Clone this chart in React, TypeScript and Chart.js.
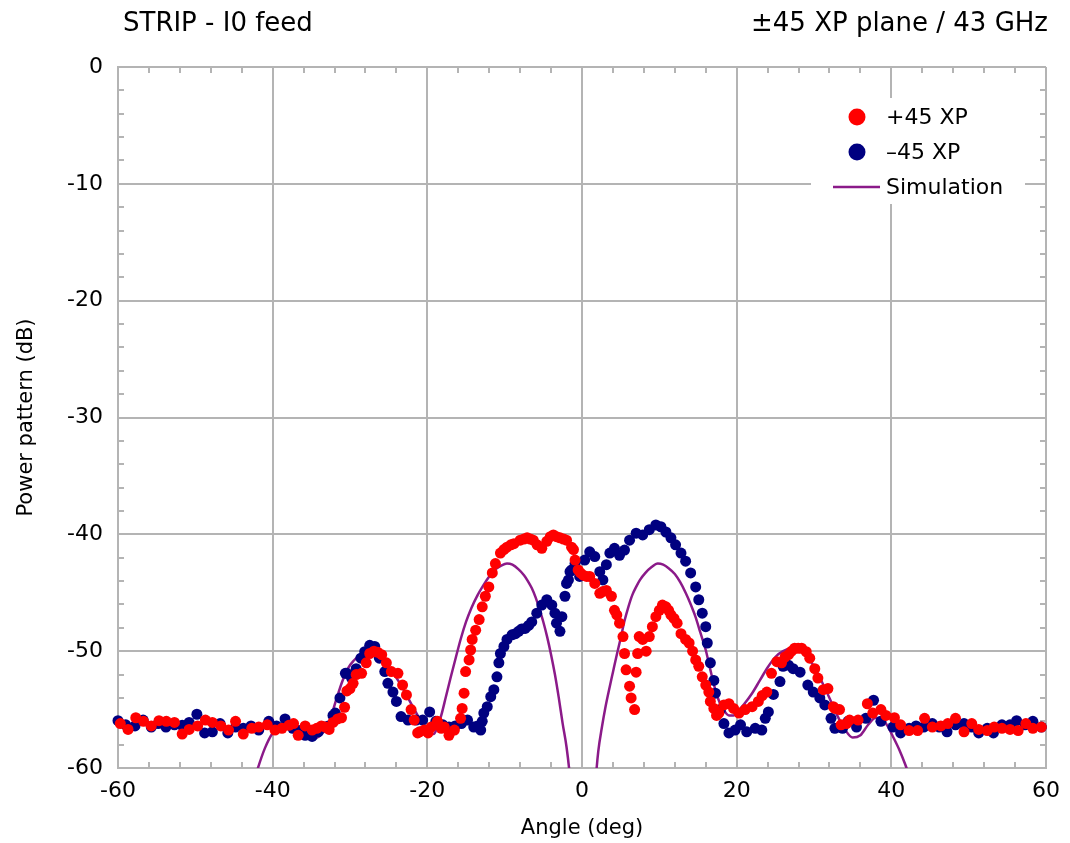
import React, { useEffect, useRef } from "react";
import { Chart, registerables } from "chart.js";

Chart.register(...registerables);

const FONT = "DejaVu Sans";

const X_TICKS = [-60, -40, -20, 0, 20, 40, 60];
const Y_TICKS = [-60, -50, -40, -30, -20, -10, 0];

const RED_X = [
  -59.7, -58.7, -57.7, -56.7, -55.7, -54.7, -53.75, -52.7, -51.7, -50.8, -49.7, -48.7, -47.8, -46.7, -45.7, -44.8,
  -43.8, -42.7, -41.8, -40.7, -39.7, -38.8, -37.9, -37.3, -36.7, -35.8, -34.9, -34.3, -33.7, -33.2, -32.7, -32.2,
  -31.6, -31.1, -30.7, -30.4, -30.0, -29.6, -29.2, -28.5, -27.9, -27.45, -26.9, -26.4, -25.9, -25.3, -24.65, -23.8,
  -23.2, -22.7, -22.1, -21.7, -21.25, -21.0, -20.4, -19.9, -19.5, -18.7, -18.2, -17.8, -17.2, -16.5, -15.7, -15.5,
  -15.25, -15.05, -14.6, -14.4, -14.2, -13.75, -13.3, -12.9, -12.5, -12.05, -11.6, -11.2, -10.55, -10.1, -9.7, -9.2,
  -8.8, -8.0, -7.5, -7.1, -6.7, -6.3, -5.8, -5.2, -4.55, -4.1, -3.7, -3.3, -2.85, -2.4, -2.0, -1.35,
  -1.1, -0.9, -0.5, -0.2, 0.15, 0.6, 1.0, 1.65, 2.3, 2.7, 3.15, 3.8, 4.2, 4.5, 4.85, 5.3,
  5.5, 5.7, 6.15, 6.35, 6.8, 7.0, 7.2, 7.4, 7.85, 8.3, 8.7, 9.1, 9.55, 10.0, 10.4, 10.85,
  11.2, 11.5, 11.9, 12.3, 12.8, 13.4, 13.85, 14.3, 14.7, 15.1, 15.55, 16.0, 16.4, 16.6, 17.05, 17.4,
  17.7, 18.35, 19.0, 19.6, 20.3, 21.1, 22.0, 22.8, 23.3, 23.9, 24.5, 25.2, 25.8, 26.25, 26.7, 27.1,
  27.5, 27.95, 28.4, 29.0, 29.45, 30.1, 30.5, 31.2, 31.8, 32.5, 32.7, 33.3, 33.5, 34.2, 34.6, 35.7,
  36.9, 37.6, 38.65, 39.3, 40.4, 41.2, 42.3, 43.4, 44.3, 45.3, 46.4, 47.3, 48.3, 49.4, 50.4, 51.3,
  52.4, 53.3, 54.3, 55.35, 56.4, 57.4, 58.3, 59.4,
];
const RED_Y = [
  -56.2, -56.7, -55.7, -56.0, -56.4, -55.95, -56.0, -56.1, -57.1, -56.7, -56.4, -55.9, -56.1, -56.4, -56.75, -56.0,
  -57.1, -56.6, -56.5, -56.3, -56.75, -56.6, -56.35, -56.2, -57.2, -56.4, -56.75, -56.6, -56.4, -56.5, -56.7, -56.1,
  -55.8, -55.7, -54.8, -53.4, -53.2, -52.75, -52.0, -51.9, -51.0, -50.2, -50.0, -50.1, -50.3, -51.0, -51.75, -51.9,
  -52.9, -53.75, -55.0, -55.9, -57.0, -56.9, -56.75, -57.0, -56.5, -56.0, -56.6, -56.5, -57.2, -56.75, -55.75, -54.9,
  -53.6, -51.75, -50.75, -49.9, -49.0, -48.2, -47.3, -46.2, -45.3, -44.5, -43.3, -42.5, -41.6, -41.3, -41.1, -40.9,
  -40.8, -40.5, -40.4, -40.3, -40.4, -40.5, -40.9, -41.2, -40.6, -40.2, -40.05, -40.2, -40.3, -40.4, -40.5, -41.1,
  -41.3, -42.2, -43.05, -43.3, -43.5, -43.6, -43.6, -44.2, -45.05, -44.9, -44.8, -45.3, -46.5, -46.9, -47.6, -48.75,
  -50.2, -51.6, -53.0, -54.0, -55.0, -51.8, -50.2, -48.75, -49.0, -50.0, -48.75, -47.9, -47.05, -46.5, -46.05, -46.2,
  -46.5, -46.9, -47.2, -47.6, -48.5, -49.0, -49.3, -50.0, -50.75, -51.3, -52.2, -52.9, -53.5, -54.3, -54.9, -55.5,
  -55.3, -54.6, -54.5, -54.9, -55.3, -55.0, -54.75, -54.3, -53.8, -53.5, -51.9, -50.9, -51.0, -50.5, -50.3, -50.0,
  -49.75, -49.75, -49.75, -50.05, -50.6, -51.5, -52.3, -53.3, -53.2, -54.75, -54.9, -55.0, -56.3, -56.2, -55.9, -55.9,
  -54.5, -55.3, -55.0, -55.5, -55.7, -56.3, -56.8, -56.8, -55.75, -56.5, -56.4, -56.2, -55.75, -56.9, -56.2, -56.7,
  -56.8, -56.5, -56.6, -56.7, -56.8, -56.2, -56.6, -56.5,
];

const BLUE_X = [
  -60, -59, -57.8, -56.75, -55.7, -54.8, -53.8, -52.7, -51.7, -50.8, -49.8, -48.8, -47.8, -46.8, -45.8, -44.8,
  -43.8, -42.8, -41.8, -40.5, -39.5, -38.4, -37.4, -36.6, -35.8, -34.9, -34.1, -33.4, -32.8, -32.2, -31.9, -31.3,
  -30.6, -30.4, -29.8, -29.2, -28.6, -28.1, -27.45, -26.8, -26.2, -25.5, -25.1, -24.45, -24.0, -23.4, -22.5, -21.45,
  -20.6, -19.7, -18.9, -18.0, -17.2, -16.4, -15.6, -14.8, -14.0, -13.5, -13.1, -12.9, -12.7, -12.25, -11.8, -11.4,
  -11.0, -10.75, -10.55, -10.1, -9.7, -9.05, -8.6, -8.2, -7.8, -7.35, -6.9, -6.5, -5.85, -5.2, -4.55, -3.9,
  -3.5, -3.3, -2.85, -2.6, -2.2, -2.0, -1.75, -1.55, -1.35, -0.9, -0.3, 0.35, 1.0, 1.65, 2.3, 2.7,
  3.15, 3.6, 4.2, 4.85, 5.5, 6.15, 7.0, 7.85, 8.7, 9.55, 10.2, 10.85, 11.5, 12.1, 12.8, 13.4,
  14.05, 14.7, 15.1, 15.55, 16.0, 16.2, 16.6, 17.05, 17.25, 17.9, 18.35, 19.0, 19.8, 20.5, 21.3, 22.4,
  23.25, 23.7, 24.1, 24.75, 25.6, 26.0, 26.7, 27.3, 28.2, 29.2, 29.9, 30.75, 31.4, 32.2, 32.7, 33.7,
  34.4, 35.5, 36.7, 37.7, 38.65, 40.2, 41.2, 42.3, 43.2, 44.2, 45.3, 46.2, 47.2, 48.3, 49.4, 50.4,
  51.3, 52.4, 53.2, 54.3, 55.35, 56.2, 57.3, 58.3, 59.4,
];
const BLUE_Y = [
  -55.95, -56.3, -56.4, -55.9, -56.5, -56.2, -56.5, -56.3, -56.35, -56.1, -55.4, -57.0, -56.9, -56.2, -57.0, -56.5,
  -56.6, -56.4, -56.75, -56.0, -56.4, -55.8, -56.6, -56.8, -57.2, -57.3, -56.9, -56.5, -56.4, -55.5, -55.3, -54.0,
  -51.9, -51.9, -52.3, -51.5, -50.6, -50.05, -49.5, -49.6, -50.6, -51.75, -52.75, -53.5, -54.3, -55.6, -55.9, -55.9,
  -55.9, -55.2, -56.0, -56.3, -56.5, -56.4, -56.2, -55.9, -56.5, -56.4, -56.75, -56.0, -55.3, -54.75, -53.9, -53.3,
  -52.2, -51.0, -50.2, -49.6, -49.0, -48.6, -48.5, -48.3, -48.1, -48.05, -47.8, -47.5, -46.75, -46.05, -45.6, -46.05,
  -46.75, -47.6, -48.3, -47.05, -45.3, -44.2, -43.9, -43.2, -43.05, -42.5, -43.6, -42.2, -41.5, -41.9, -43.2, -43.9,
  -42.6, -41.6, -41.2, -41.8, -41.35, -40.5, -39.9, -40.05, -39.6, -39.2, -39.35, -39.8, -40.3, -40.9, -41.6, -42.3,
  -43.3, -44.5, -45.6, -46.75, -47.9, -49.3, -51.0, -52.5, -53.6, -55.0, -56.2, -57.0, -56.75, -56.3, -56.9, -56.6,
  -56.75, -55.75, -55.2, -53.7, -52.6, -51.3, -51.2, -51.5, -51.8, -52.9, -53.5, -54.0, -54.6, -55.75, -56.6, -56.6,
  -56.0, -56.5, -55.75, -54.2, -56.0, -56.5, -57.0, -56.6, -56.4, -56.5, -56.2, -56.5, -56.9, -56.3, -56.2, -56.5,
  -57.0, -56.6, -57.0, -56.3, -56.3, -55.95, -56.3, -56.0, -56.5,
];

const SIM_X = [
  -43, -42, -41, -40, -39, -38, -37, -36, -35, -34, -33, -32.5, -31.8, -31, -30.2, -29.5,
  -28.7, -28, -27.2, -26.5, -25.5, -24.5, -23.5, -22.5, -21.5, -20.5, -19.8, -19.2, -18.7, -18.2, -17.6, -17,
  -16.3, -15.7, -15, -14.3, -13.5, -12.7, -12, -11.2, -10.5, -9.7, -9, -8.2, -7.5, -7, -6.5, -6,
  -5.5, -5, -4.5, -4, -3.5, -3, -2.5, -2, -1.6, -1.2, 0, 1.5, 1.8, 2.1, 2.6, 3.0,
  3.6, 4, 4.5, 5, 5.5, 6, 6.5, 7, 7.5, 8.2, 9, 9.8, 10.5, 11.2, 12, 12.7,
  13.4, 14, 14.7, 15.3, 16, 16.6, 17.2, 17.8, 18.4, 19, 19.6, 20.2, 21, 22, 23, 24,
  25, 26, 27, 28, 29, 30, 31, 32, 33, 34, 35, 36, 37, 38, 38.8, 39.5,
  40.2, 41, 41.8, 42.5,
];
const SIM_Y = [
  -62.5, -60.2, -58.3, -57.0, -56.4, -56.3, -56.6, -57.1, -57.5, -57.3, -56.5, -55.7, -54.2, -52.6, -51.4, -50.8,
  -50.3, -50.1, -50.1, -50.4, -51.0, -51.8, -52.8, -54.0, -55.2, -56.3, -56.9, -57.1, -56.5, -55.5, -53.9, -52.3,
  -50.5, -49.0, -47.5, -46.3, -45.2, -44.3, -43.6, -43.0, -42.7, -42.5, -42.6, -43.0, -43.5, -44.0, -44.6, -45.4,
  -46.4, -47.5, -48.8, -50.3, -52.0, -54.0, -56.2, -58.2, -60.5, -64, null, -64, -60.8, -58.6, -56.4, -54.9,
  -53.0, -51.8, -50.3, -48.9, -47.4, -46.2, -45.2, -44.5, -43.9, -43.3, -42.8, -42.5, -42.6, -42.9, -43.4, -44.1,
  -45.0, -45.9, -47.1, -48.4, -49.9, -51.6, -53.2, -54.4, -55.1, -55.5, -55.5, -55.1, -54.5, -53.6, -52.5, -51.4,
  -50.5, -50.0, -49.8, -49.9, -50.4, -51.3, -52.6, -54.0, -55.5, -56.7, -57.4, -57.2, -56.3, -55.7, -55.8, -56.4,
  -57.3, -58.4, -59.7, -61,
];

const zip = (xs: number[], ys: (number | null)[]) => xs.map((x, i) => ({ x, y: ys[i] }));

const GRID = "#b4b4b4";

const decorPlugin = {
  id: "decor",
  beforeDraw(chart: any) {
    const ctx = chart.ctx;
    ctx.save();
    ctx.fillStyle = "#ffffff";
    ctx.fillRect(0, 0, chart.width, chart.height);
    ctx.restore();
  },
  beforeDatasetsDraw(chart: any) {
    const { ctx, chartArea: a, scales } = chart;
    const xs = scales.x;
    const ys = scales.y;
    ctx.save();
    ctx.strokeStyle = GRID;
    ctx.lineWidth = 2;
    const L = 6;
    for (let v = -56; v <= 56; v += 4) {
      if (v % 20 === 0) continue;
      const px = Math.round(xs.getPixelForValue(v));
      ctx.beginPath();
      ctx.moveTo(px, a.bottom);
      ctx.lineTo(px, a.bottom - L);
      ctx.moveTo(px, a.top);
      ctx.lineTo(px, a.top + L);
      ctx.stroke();
    }
    for (let v = -58; v <= -2; v += 2) {
      if (v % 10 === 0) continue;
      const py = Math.round(ys.getPixelForValue(v));
      ctx.beginPath();
      ctx.moveTo(a.left, py);
      ctx.lineTo(a.left + L, py);
      ctx.moveTo(a.right, py);
      ctx.lineTo(a.right - L, py);
      ctx.stroke();
    }
    ctx.restore();
  },
  afterDraw(chart: any) {
    const { ctx, chartArea: a } = chart;
    ctx.save();
    ctx.fillStyle = "#000";
    ctx.textBaseline = "middle";
    ctx.font = `26px "${FONT}"`;
    ctx.textAlign = "left";
    ctx.fillText("STRIP - I0 feed", 123, 24);
    ctx.textAlign = "right";
    ctx.fillText("±45 XP plane / 43 GHz", 1048, 24);

    ctx.font = `21px "${FONT}"`;
    ctx.textAlign = "center";
    ctx.fillText("Angle (deg)", (a.left + a.right) / 2, 829);
    ctx.save();
    ctx.translate(27, (a.top + a.bottom) / 2);
    ctx.rotate(-Math.PI / 2);
    ctx.fillText("Power pattern (dB)", 0, 0);
    ctx.restore();

    // legend
    ctx.fillStyle = "#fff";
    ctx.fillRect(811, 98, 214, 106);
    ctx.font = `22px "${FONT}"`;
    ctx.textAlign = "left";
    const items = [
      { label: "+45 XP", color: "#ff0000", kind: "dot", y: 117 },
      { label: "–45 XP", color: "#000080", kind: "dot", y: 152 },
      { label: "Simulation", color: "#8b1a89", kind: "line", y: 187 },
    ];
    for (const it of items) {
      if (it.kind === "dot") {
        ctx.fillStyle = it.color;
        ctx.beginPath();
        ctx.arc(857, it.y, 8.5, 0, Math.PI * 2);
        ctx.fill();
      } else {
        ctx.strokeStyle = it.color;
        ctx.lineWidth = 2.5;
        ctx.beginPath();
        ctx.moveTo(833, it.y);
        ctx.lineTo(880, it.y);
        ctx.stroke();
      }
      ctx.fillStyle = "#000";
      ctx.fillText(it.label, 886, it.y + 1);
    }
    ctx.restore();
  },
};

export default function App() {
  const ref = useRef<HTMLCanvasElement | null>(null);
  useEffect(() => {
    if (!ref.current) return;
    const chart = new Chart(ref.current, {
      type: "scatter",
      data: {
        datasets: [
          {
            label: "+45 XP",
            data: zip(RED_X, RED_Y),
            backgroundColor: "#ff0000",
            borderWidth: 0,
            pointRadius: 5.5,
            clip: false,
          } as any,
          {
            label: "–45 XP",
            data: zip(BLUE_X, BLUE_Y),
            backgroundColor: "#000080",
            borderWidth: 0,
            pointRadius: 5.5,
            clip: false,
          } as any,
          {
            type: "line",
            label: "Simulation",
            data: zip(SIM_X, SIM_Y),
            borderColor: "#8b1a89",
            borderWidth: 2.5,
            pointRadius: 0,
            showLine: true,
            spanGaps: false,
            cubicInterpolationMode: "monotone",
            fill: false,
          } as any,
        ],
      },
      options: {
        animation: false,
        responsive: false,
        layout: { padding: { left: 0, top: 67, right: 17, bottom: 0 } },
        plugins: { legend: { display: false }, tooltip: { enabled: false }, title: { display: false } },
        scales: {
          x: {
            type: "linear",
            min: -60,
            max: 60,
            afterBuildTicks: (s: any) => {
              s.ticks = X_TICKS.map((v) => ({ value: v }));
            },
            afterFit: (s: any) => {
              s.height = 75;
            },
            ticks: { font: { family: FONT, size: 22 }, color: "#000", padding: 10 },
            grid: { color: GRID, lineWidth: 2, drawTicks: false },
            border: { color: GRID, width: 2 },
          },
          y: {
            type: "linear",
            min: -60,
            max: 0,
            afterBuildTicks: (s: any) => {
              s.ticks = Y_TICKS.map((v) => ({ value: v }));
            },
            afterFit: (s: any) => {
              s.width = 118;
            },
            ticks: { font: { family: FONT, size: 22 }, color: "#000", padding: 15 },
            grid: { color: GRID, lineWidth: 2, drawTicks: false },
            border: { color: GRID, width: 2 },
          },
        },
      },
      plugins: [decorPlugin],
    });
    return () => chart.destroy();
  }, []);
  return (
    <div style={{ position: "fixed", left: 0, top: 0, width: 1070, height: 843, background: "#fff" }}>
      <canvas ref={ref} width={1070} height={843} style={{ width: 1070, height: 843 }} />
    </div>
  );
}
